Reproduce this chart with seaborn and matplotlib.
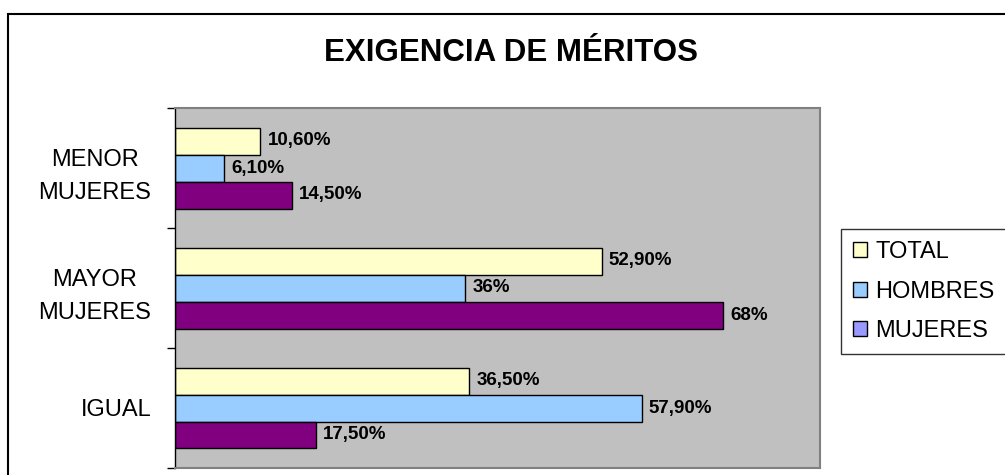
import pandas as pd
import matplotlib.pyplot as plt
import matplotlib.patches as mpatches
import seaborn as sns

# datos
categorias = ['MENOR\nMUJERES', 'MAYOR\nMUJERES', 'IGUAL']
series = ['TOTAL', 'HOMBRES', 'MUJERES']
total = [10.6, 52.9, 36.5]
hombres = [6.1, 36, 57.9]
mujeres = [14.5, 68, 17.5]
etiquetas_total = ['10,60%', '52,90%', '36,50%']
etiquetas_hombres = ['6,10%', '36%', '57,90%']
etiquetas_mujeres = ['14,50%', '68%', '17,50%']

colores_barras = ['#FFFFCC', '#99CCFF', '#800080']
colores_leyenda = ['#FFFFCC', '#99CCFF', '#9999FF']

df = pd.DataFrame({
    'categoria': categorias * 3,
    'serie': [s for s in series for _ in categorias],
    'valor': total + hombres + mujeres,
})

sns.set_theme(style='white')
plt.rcParams['font.family'] = ['Liberation Sans', 'DejaVu Sans']
plt.rcParams['text.color'] = 'black'
plt.rcParams['ytick.color'] = 'black'
plt.rcParams['ytick.labelcolor'] = 'black'

fig = plt.figure(figsize=(10.05, 4.75), dpi=100)
ax = fig.add_axes([175 / 1005, 1 - 468 / 475, 645 / 1005, 360 / 475])

sns.barplot(data=df, y='categoria', x='valor', hue='serie', order=categorias,
            hue_order=series, palette=colores_barras, orient='h', width=0.675,
            saturation=1, edgecolor='black', linewidth=1, legend=False, ax=ax)

# etiquetas de valores
for cont, labs in zip(ax.containers, [etiquetas_total, etiquetas_hombres, etiquetas_mujeres]):
    ax.bar_label(cont, labels=labs, padding=5, fontsize=13.5, fontweight='bold', color='black')

ax.set_xlim(0, 80)
ax.set_ylim(2.5, -0.5)
ax.set_facecolor('#C0C0C0')
ax.set_xlabel('')
ax.set_ylabel('')
ax.set_xticks([])
ax.set_yticks([0, 1, 2])
ax.set_yticklabels(categorias, fontsize=17, linespacing=1.7, color='black',
                   multialignment='center')
ax.set_yticks([-0.5, 0.5, 1.5, 2.5], minor=True)
ax.tick_params(axis='y', which='major', length=0, pad=17)
ax.tick_params(axis='y', which='minor', length=6, width=1, color='black', left=True)

for lado in ['top', 'right', 'bottom']:
    ax.spines[lado].set_color('#808080')
    ax.spines[lado].set_linewidth(1.5)
ax.spines['left'].set_color('black')
ax.spines['left'].set_linewidth(1)

# leyenda
handles = [mpatches.Patch(facecolor=c, edgecolor='black', linewidth=1) for c in colores_leyenda]
leg = fig.legend(handles, series, loc='upper left', bbox_to_anchor=(841 / 1005, 1 - 229 / 475),
                 fontsize=17, frameon=True, fancybox=False, borderaxespad=0,
                 handlelength=0.6, handleheight=0.6, handletextpad=0.35,
                 labelspacing=0.75, borderpad=0.5)
leg.get_frame().set_edgecolor('black')
leg.get_frame().set_linewidth(1)

# titulo
fig.text(511 / 1005, 1 - 53 / 475, 'EXIGENCIA DE MÉRITOS', ha='center', va='center',
         fontsize=22.5, fontweight='bold')

# marco exterior
fig.add_artist(mpatches.Rectangle((8 / 1005, -0.1), 1.2, 1.1 - 14 / 475,
                                  transform=fig.transFigure, fill=False,
                                  edgecolor='black', linewidth=1.5))

fig.savefig('out.png', dpi=100)
